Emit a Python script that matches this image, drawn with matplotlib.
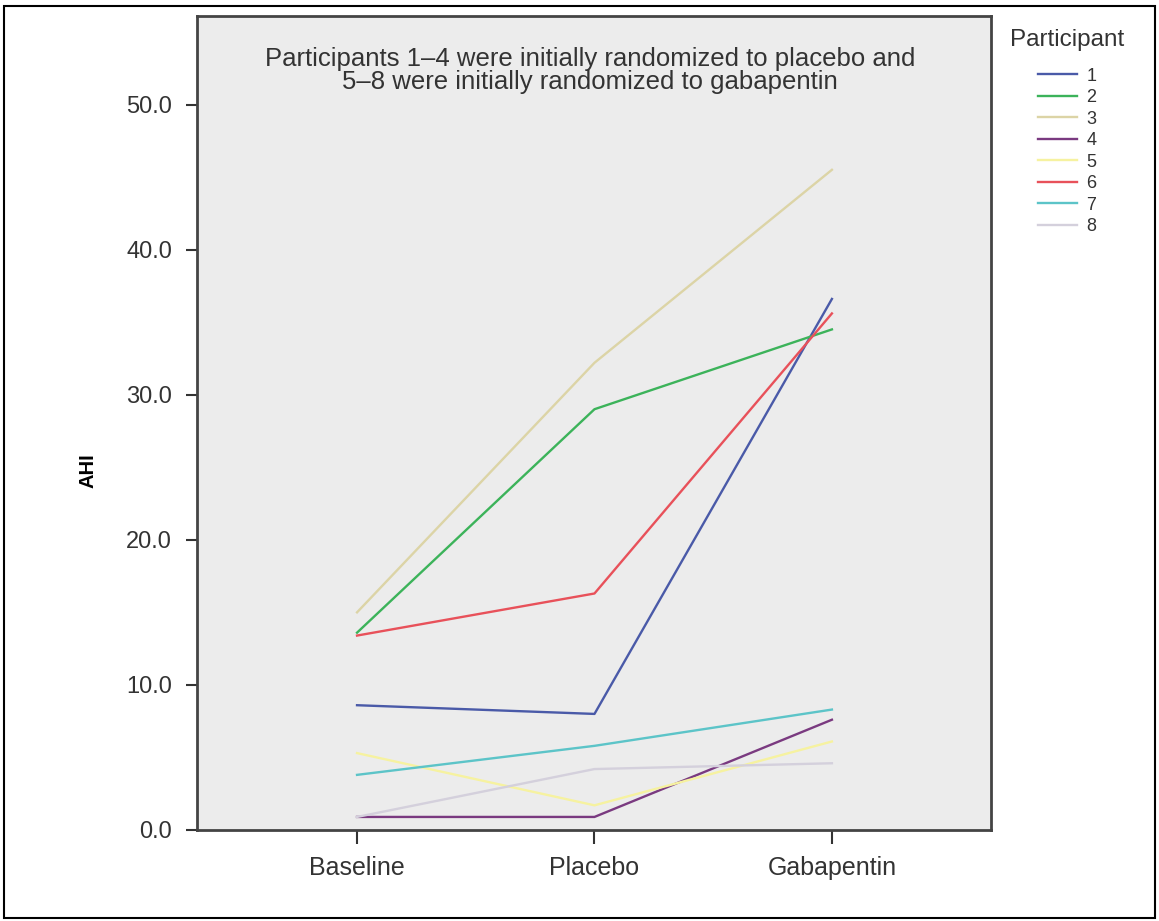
import numpy as np
import matplotlib.pyplot as plt
from matplotlib.patches import Rectangle

conditions = ['Baseline', 'Placebo', 'Gabapentin']
participants = ['1', '2', '3', '4', '5', '6', '7', '8']

ahi_1 = [8.6, 8.0, 36.6]
ahi_2 = [13.6, 29.0, 34.5]
ahi_3 = [15.0, 32.2, 45.5]
ahi_4 = [0.9, 0.9, 7.6]
ahi_5 = [5.3, 1.7, 6.1]
ahi_6 = [13.4, 16.3, 35.6]
ahi_7 = [3.8, 5.8, 8.3]
ahi_8 = [0.9, 4.2, 4.6]

colors = ['#4a5aa8', '#3cb35a', '#dcd4a6', '#7a3a80',
          '#f6f2a0', '#e8515a', '#5cc4c8', '#d4d0dc']

series = [ahi_1, ahi_2, ahi_3, ahi_4, ahi_5, ahi_6, ahi_7, ahi_8]

plt.rcParams['font.family'] = ['Liberation Sans', 'DejaVu Sans']

W, H = 1159, 921
fig = plt.figure(figsize=(W / 100, H / 100), dpi=100)
ax = fig.add_axes([197/W, 1 - 830/H, (991-197)/W, (830-16)/H])
ax.set_facecolor('#ececec')

x = np.arange(len(conditions))
for name, vals, c in zip(participants, series, colors):
    ax.plot(x, vals, color=c, lw=1.7, label=name)

ax.set_xlim(-0.674, 2.67)
ax.set_ylim(0, 56.1)
ax.set_xticks(x)
ax.set_xticklabels(conditions, fontsize=18, color='#333333')
yt = [0, 10, 20, 30, 40, 50]
ax.set_yticks(yt)
ax.set_yticklabels(['%.1f' % v for v in yt], fontsize=17, color='#333333')
ax.tick_params(axis='x', length=10, width=1.5, color='#333333', pad=9)
ax.tick_params(axis='y', length=8, width=1.5, color='#333333', pad=10)
for s in ax.spines.values():
    s.set_color('#444444')
    s.set_linewidth(2)

ax.set_ylabel('AHI', fontsize=14.5, fontweight='bold')
ax.yaxis.set_label_coords(-0.125, 0.442)

ax.text(0.495, 0.962,
        'Participants 1\u20134 were initially randomized to placebo and\n'
        '5\u20138 were initially randomized to gabapentin',
        transform=ax.transAxes, ha='center', va='top', fontsize=18.5,
        color='#333333', linespacing=0.95)

leg = ax.legend(title='Participant', loc='upper left',
                bbox_to_anchor=(1010/W, 1 - 29/H),
                bbox_transform=fig.transFigure, frameon=False,
                fontsize=13, title_fontsize=17.5, labelspacing=0.25,
                handlelength=2.2, handletextpad=0.5, borderaxespad=0,
                borderpad=0)
leg._legend_box.sep = 12
for t in leg.get_texts():
    t.set_color('#333333')
leg.get_title().set_color('#333333')

fig.patches.append(Rectangle((4/W, 1 - 918/H), 1151/W, 912/H,
                             transform=fig.transFigure, fill=False,
                             edgecolor='black', lw=1.5))

fig.savefig('out.png', dpi=100, facecolor='white')
